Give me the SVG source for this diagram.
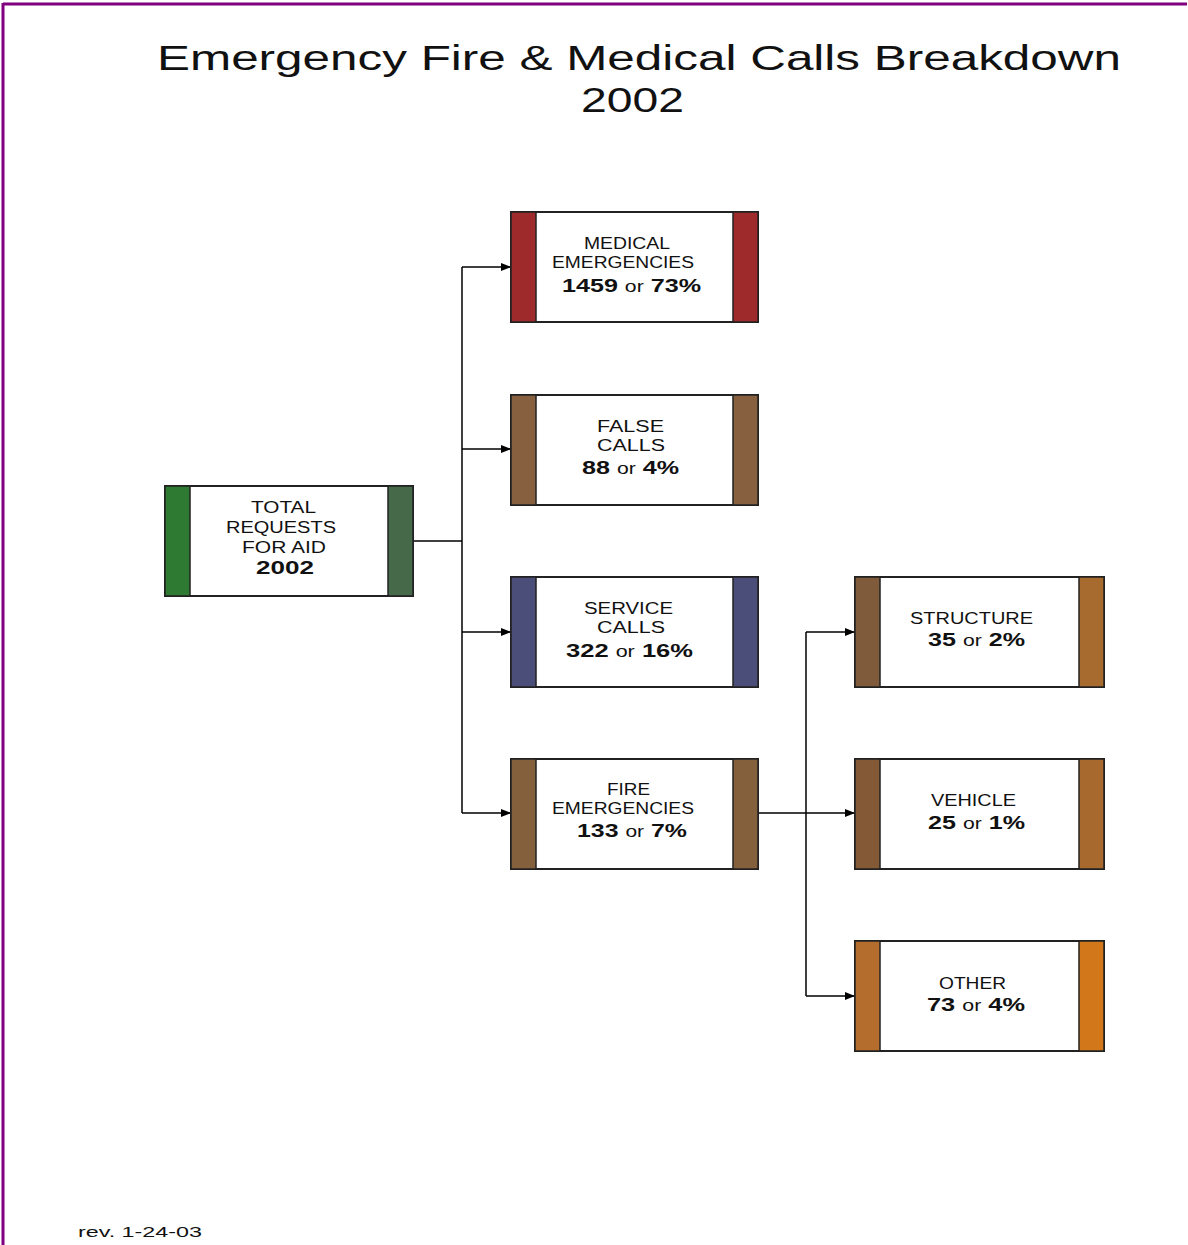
<svg xmlns="http://www.w3.org/2000/svg" width="1188" height="1245" viewBox="0 0 1188 1245">
<defs>
<style>
.t{font-family:"Liberation Sans",Arial,sans-serif;fill:#111;}
.title{font-size:35px;}
.lbl{font-size:16px;}
.num{font-size:19px;font-weight:bold;}
.or{font-size:16px;font-weight:normal;}
.box{fill:#fff;stroke:#222;stroke-width:2;}
.bar{stroke:#222;stroke-width:1.5;}
.conn{fill:none;stroke:#000;stroke-width:1.5;}
</style>
<marker id="ah" viewBox="0 0 10 8" refX="10" refY="4" markerWidth="10" markerHeight="8" markerUnits="userSpaceOnUse" orient="auto">
<path d="M0,0 L10,4 L0,8 Z" fill="#000"/>
</marker>
</defs>
<rect width="1188" height="1245" fill="#fff"/>
<g id="frame">
<line x1="3" y1="4" x2="1187" y2="4" stroke="#800080" stroke-width="3"/>
<line x1="3" y1="3" x2="3" y2="1245" stroke="#800080" stroke-width="3"/>
</g>
<g id="title">
<text class="t title" x="157" y="70" textLength="964" lengthAdjust="spacingAndGlyphs">Emergency Fire &amp; Medical Calls Breakdown</text>
<text class="t title" x="581" y="112" textLength="103" lengthAdjust="spacingAndGlyphs">2002</text>
</g>
<g id="connectors">
<polyline class="conn" points="413,541 462,541"/>
<line class="conn" x1="462" y1="267" x2="462" y2="813"/>
<line class="conn" x1="462" y1="267" x2="511" y2="267" marker-end="url(#ah)"/>
<line class="conn" x1="462" y1="449" x2="511" y2="449" marker-end="url(#ah)"/>
<line class="conn" x1="462" y1="632" x2="511" y2="632" marker-end="url(#ah)"/>
<line class="conn" x1="462" y1="813" x2="511" y2="813" marker-end="url(#ah)"/>
<line class="conn" x1="758" y1="813" x2="855" y2="813" marker-end="url(#ah)"/>
<line class="conn" x1="806" y1="632" x2="806" y2="996"/>
<line class="conn" x1="806" y1="632" x2="855" y2="632" marker-end="url(#ah)"/>
<line class="conn" x1="806" y1="996" x2="855" y2="996" marker-end="url(#ah)"/>
</g>
<g id="total">
<rect class="box" x="165" y="486" width="248" height="110"/>
<rect class="bar" x="165" y="486" width="25" height="110" fill="#2e7a32"/>
<rect class="bar" x="388" y="486" width="25" height="110" fill="#46694a"/>
<text class="t lbl" x="251" y="513" textLength="65" lengthAdjust="spacingAndGlyphs">TOTAL</text>
<text class="t lbl" x="226" y="533" textLength="110" lengthAdjust="spacingAndGlyphs">REQUESTS</text>
<text class="t lbl" x="242" y="553" textLength="84" lengthAdjust="spacingAndGlyphs">FOR AID</text>
<text class="t num" x="256" y="574" textLength="58" lengthAdjust="spacingAndGlyphs">2002</text>
</g>
<g id="medical">
<rect class="box" x="511" y="212" width="247" height="110"/>
<rect class="bar" x="511" y="212" width="25" height="110" fill="#9e2a2b"/>
<rect class="bar" x="733" y="212" width="25" height="110" fill="#9e2a2b"/>
<text class="t lbl" x="584" y="249" textLength="86" lengthAdjust="spacingAndGlyphs">MEDICAL</text>
<text class="t lbl" x="552" y="268" textLength="142" lengthAdjust="spacingAndGlyphs">EMERGENCIES</text>
<text class="t num" x="562" y="292" textLength="139" lengthAdjust="spacingAndGlyphs">1459 <tspan class="or">or</tspan> 73%</text>
</g>
<g id="false">
<rect class="box" x="511" y="395" width="247" height="110"/>
<rect class="bar" x="511" y="395" width="25" height="110" fill="#87613f"/>
<rect class="bar" x="733" y="395" width="25" height="110" fill="#87613f"/>
<text class="t lbl" x="597" y="432" textLength="67" lengthAdjust="spacingAndGlyphs">FALSE</text>
<text class="t lbl" x="597" y="451" textLength="68" lengthAdjust="spacingAndGlyphs">CALLS</text>
<text class="t num" x="582" y="474" textLength="97" lengthAdjust="spacingAndGlyphs">88 <tspan class="or">or</tspan> 4%</text>
</g>
<g id="service">
<rect class="box" x="511" y="577" width="247" height="110"/>
<rect class="bar" x="511" y="577" width="25" height="110" fill="#4b4e78"/>
<rect class="bar" x="733" y="577" width="25" height="110" fill="#4b4e78"/>
<text class="t lbl" x="584" y="614" textLength="89" lengthAdjust="spacingAndGlyphs">SERVICE</text>
<text class="t lbl" x="597" y="633" textLength="68" lengthAdjust="spacingAndGlyphs">CALLS</text>
<text class="t num" x="566" y="657" textLength="127" lengthAdjust="spacingAndGlyphs">322 <tspan class="or">or</tspan> 16%</text>
</g>
<g id="fire">
<rect class="box" x="511" y="759" width="247" height="110"/>
<rect class="bar" x="511" y="759" width="25" height="110" fill="#85603d"/>
<rect class="bar" x="733" y="759" width="25" height="110" fill="#85603d"/>
<text class="t lbl" x="607" y="795" textLength="43" lengthAdjust="spacingAndGlyphs">FIRE</text>
<text class="t lbl" x="552" y="814" textLength="142" lengthAdjust="spacingAndGlyphs">EMERGENCIES</text>
<text class="t num" x="577" y="837" textLength="110" lengthAdjust="spacingAndGlyphs">133 <tspan class="or">or</tspan> 7%</text>
</g>
<g id="structure">
<rect class="box" x="855" y="577" width="249" height="110"/>
<rect class="bar" x="855" y="577" width="25" height="110" fill="#7f5b3b"/>
<rect class="bar" x="1079" y="577" width="25" height="110" fill="#a86b2f"/>
<text class="t lbl" x="910" y="624" textLength="123" lengthAdjust="spacingAndGlyphs">STRUCTURE</text>
<text class="t num" x="928" y="646" textLength="97" lengthAdjust="spacingAndGlyphs">35 <tspan class="or">or</tspan> 2%</text>
</g>
<g id="vehicle">
<rect class="box" x="855" y="759" width="249" height="110"/>
<rect class="bar" x="855" y="759" width="25" height="110" fill="#835a35"/>
<rect class="bar" x="1079" y="759" width="25" height="110" fill="#a8692e"/>
<text class="t lbl" x="931" y="806" textLength="85" lengthAdjust="spacingAndGlyphs">VEHICLE</text>
<text class="t num" x="928" y="829" textLength="97" lengthAdjust="spacingAndGlyphs">25 <tspan class="or">or</tspan> 1%</text>
</g>
<g id="other">
<rect class="box" x="855" y="941" width="249" height="110"/>
<rect class="bar" x="855" y="941" width="25" height="110" fill="#b46d2d"/>
<rect class="bar" x="1079" y="941" width="25" height="110" fill="#d2781a"/>
<text class="t lbl" x="939" y="989" textLength="67" lengthAdjust="spacingAndGlyphs">OTHER</text>
<text class="t num" x="927" y="1011" textLength="98" lengthAdjust="spacingAndGlyphs">73 <tspan class="or">or</tspan> 4%</text>
</g>
<g id="rev">
<text class="t" x="78" y="1237" font-size="15" textLength="124" lengthAdjust="spacingAndGlyphs">rev. 1-24-03</text>
</g>
</svg>
